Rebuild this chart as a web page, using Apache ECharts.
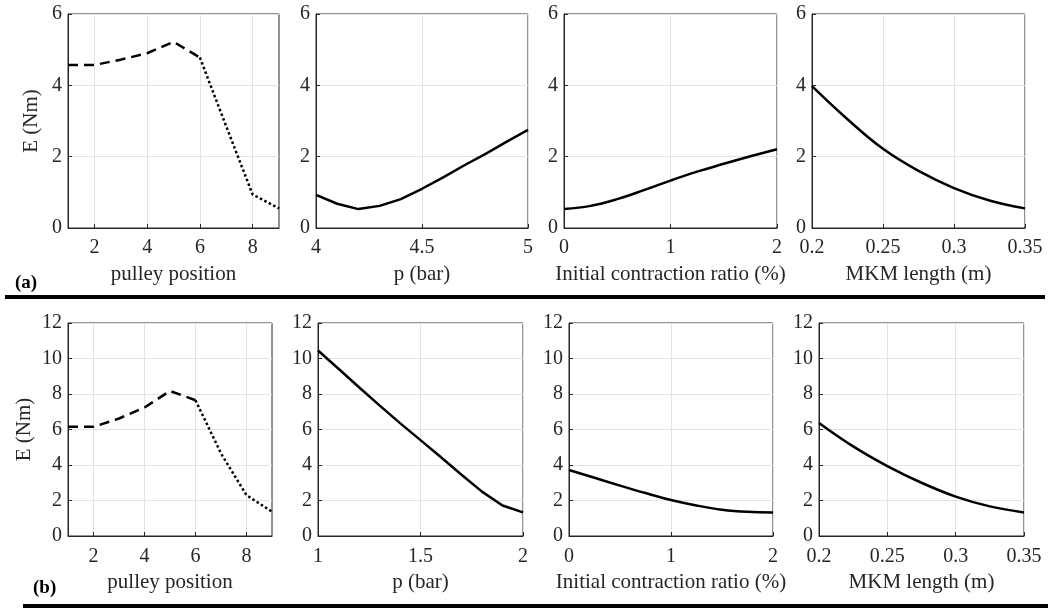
<!DOCTYPE html>
<html>
<head>
<meta charset="utf-8">
<script src="https://cdn.jsdelivr.net/npm/echarts@6/dist/echarts.min.js"></script>
<style>
html,body{margin:0;padding:0;background:#fff;}
#chart{width:1048px;height:608px;}
</style>
</head>
<body>
<div id="chart"></div>
<script>
// ---- data ----
var pulleyDashedX = [1, 2, 3, 4, 5, 6];
var pulleyDottedX = [6, 7, 8, 9];
var aPulleyDashed = [4.57, 4.57, 4.72, 4.90, 5.22, 4.78];
var aPulleyDotted = [4.78, 2.85, 0.94, 0.55];
var bPulleyDashed = [6.15, 6.15, 6.62, 7.24, 8.17, 7.65];
var bPulleyDotted = [7.65, 4.65, 2.30, 1.37];

var aPressureX = [4.0, 4.1, 4.2, 4.3, 4.4, 4.5, 4.6, 4.7, 4.8, 4.9, 5.0];
var aPressureE = [0.93, 0.68, 0.53, 0.62, 0.81, 1.10, 1.42, 1.76, 2.08, 2.42, 2.75];
var bPressureX = [1.0, 1.1, 1.2, 1.3, 1.4, 1.5, 1.6, 1.7, 1.8, 1.9, 2.0];
var bPressureE = [10.45, 9.42, 8.38, 7.36, 6.36, 5.40, 4.44, 3.45, 2.50, 1.72, 1.33];

var contractionX = [0, 0.25, 0.5, 0.75, 1, 1.25, 1.5, 1.75, 2];
var aContractionE = [0.53, 0.62, 0.81, 1.06, 1.33, 1.58, 1.80, 2.01, 2.21];
var bContractionE = [3.72, 3.28, 2.84, 2.42, 2.03, 1.72, 1.48, 1.36, 1.33];

var lengthX = [0.2, 0.225, 0.25, 0.275, 0.3, 0.325, 0.35];
var aLengthE = [3.98, 3.05, 2.22, 1.60, 1.12, 0.77, 0.55];
var bLengthE = [6.37, 5.05, 3.94, 3.00, 2.22, 1.67, 1.33];

var xNames = ['pulley position', 'p (bar)', 'Initial contraction ratio (%)', 'MKM length (m)'];
var yName = 'E (Nm)';
var rowLabels = ['(a)', '(b)'];
var pulleyTicks = [2, 4, 6, 8];

// ---- layout ----
var FONT = '"Liberation Serif", "Times New Roman", serif';
var TXT = '#262626';
var rows = [
  {top: 14, height: 214, lefts: [68, 316, 564, 812], widths: [211, 212, 213, 213], yMax: 6, labelMargin: 10, yNameGap: 26},
  {top: 323, height: 213, lefts: [68, 318, 569, 819], widths: [204, 205, 204, 205], yMax: 12, labelMargin: 11, yNameGap: 33}
];
var xRanges = [
  [[1, 9, null], [4, 5, 0.5], [0, 2, 1], [0.2, 0.35, 0.05]],
  [[1, 9, null], [1, 2, 0.5], [0, 2, 1], [0.2, 0.35, 0.05]]
];

function zip(xs, ys) { return xs.map(function (x, i) { return [x, ys[i]]; }); }

var grids = [], xAxes = [], yAxes = [], series = [];
rows.forEach(function (r, ri) {
  for (var c = 0; c < 4; c++) {
    var idx = grids.length;
    grids.push({left: r.lefts[c], top: r.top, width: r.widths[c], height: r.height,
      show: true, borderColor: TXT, borderWidth: 1, backgroundColor: '#fff'});
    var xr = xRanges[ri][c];
    var xa = {type: 'value', gridIndex: idx, min: xr[0], max: xr[1],
      name: xNames[c], nameLocation: 'middle', nameGap: 36,
      nameTextStyle: {fontFamily: FONT, fontSize: 21, color: TXT},
      axisLine: {show: true, lineStyle: {color: TXT, width: 1}},
      axisTick: {show: true, inside: true, length: 4, lineStyle: {color: TXT}},
      axisLabel: {fontFamily: FONT, fontSize: 20, color: TXT, margin: r.labelMargin, showMinLabel: true, showMaxLabel: true},
      splitLine: {show: true, lineStyle: {color: '#e3e3e3', width: 1}}
    };
    if (xr[2] === null) {
      xa.axisTick.customValues = pulleyTicks;
      xa.axisLabel.customValues = pulleyTicks;
    } else {
      xa.interval = xr[2];
    }
    xAxes.push(xa);
    yAxes.push({type: 'value', gridIndex: idx, min: 0, max: r.yMax, interval: 2,
      name: c === 0 ? yName : '', nameLocation: 'middle', nameGap: r.yNameGap,
      nameTextStyle: {fontFamily: FONT, fontSize: 21, color: TXT},
      axisLine: {show: true, lineStyle: {color: TXT, width: 1}},
      axisTick: {show: true, inside: true, length: 4, lineStyle: {color: TXT}},
      axisLabel: {fontFamily: FONT, fontSize: 20, color: TXT, margin: 6},
      splitLine: {show: true, lineStyle: {color: '#e3e3e3', width: 1}}
    });
  }
});

function line(idx, data, type, smooth) {
  series.push({type: 'line', xAxisIndex: idx, yAxisIndex: idx, data: data,
    showSymbol: false, symbol: 'none', smooth: smooth || false, animation: false,
    lineStyle: {color: '#000', width: 2.5, type: type || 'solid'}});
}
line(0, zip(pulleyDashedX, aPulleyDashed), [10, 6]);
line(0, zip(pulleyDottedX, aPulleyDotted), [2.5, 2.5]);
line(1, zip(aPressureX, aPressureE));
line(2, zip(contractionX, aContractionE), 'solid', 0.4);
line(3, zip(lengthX, aLengthE), 'solid', 0.4);
line(4, zip(pulleyDashedX, bPulleyDashed), [10, 6]);
line(4, zip(pulleyDottedX, bPulleyDotted), [2.5, 2.5]);
line(5, zip(bPressureX, bPressureE));
line(6, zip(contractionX, bContractionE), 'solid', 0.4);
line(7, zip(lengthX, bLengthE), 'solid', 0.4);

var graphic = [
  {type: 'rect', shape: {x: 5, y: 295, width: 1040, height: 4}, style: {fill: '#000'}},
  {type: 'rect', shape: {x: 23, y: 604, width: 1025, height: 4}, style: {fill: '#000'}},
  {type: 'text', x: 15, y: 283, style: {text: rowLabels[0], font: 'bold 19px ' + FONT, fill: '#000', verticalAlign: 'middle'}},
  {type: 'text', x: 33, y: 588, style: {text: rowLabels[1], font: 'bold 19px ' + FONT, fill: '#000', verticalAlign: 'middle'}}
];

var chart = echarts.init(document.getElementById('chart'), null, {renderer: 'canvas'});
chart.setOption({
  animation: false,
  backgroundColor: '#fff',
  grid: grids, xAxis: xAxes, yAxis: yAxes, series: series, graphic: graphic
});
</script>
</body>
</html>
